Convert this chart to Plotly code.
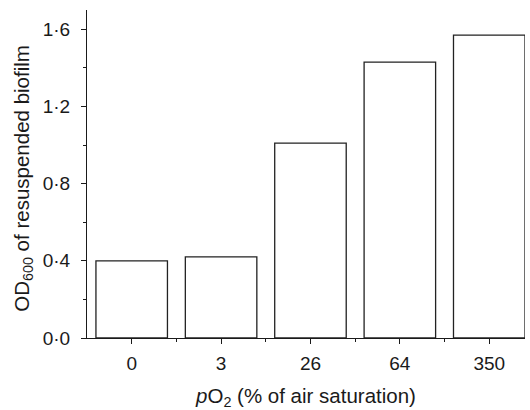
import plotly.graph_objects as go

# Biofilm OD600 at each oxygen partial pressure
categories = ["0", "3", "26", "64", "350"]
od600 = [0.40, 0.42, 1.01, 1.43, 1.57]

y_tickvals = [0.0, 0.4, 0.8, 1.2, 1.6]
y_ticktext = ["0·0", "0·4", "0·8", "1·2", "1·6"]
y_minorvals = [0.2, 0.6, 1.0, 1.4]

positions = list(range(len(categories)))
boundaries = [p + 0.5 for p in positions[:-1]]

font_family = "Liberation Sans, Arial, Helvetica, sans-serif"

fig = go.Figure(
    go.Bar(
        x=positions,
        y=od600,
        width=0.8,
        marker=dict(color="white", line=dict(color="#222222", width=1.3)),
    )
)

fig.update_layout(
    width=530,
    height=410,
    margin=dict(l=87, r=5, t=10, b=72),
    plot_bgcolor="white",
    paper_bgcolor="white",
    showlegend=False,
    font=dict(family=font_family, color="#1a1a1a", size=19),
)

fig.update_xaxes(
    range=[-0.5, 4.4],
    tickmode="array",
    tickvals=positions,
    ticktext=categories,
    ticks="outside",
    ticklen=5,
    tickwidth=1,
    tickcolor="#1a1a1a",
    showline=True,
    linecolor="#1a1a1a",
    linewidth=1.2,
    showgrid=False,
    zeroline=False,
    tickfont=dict(size=19),
    ticklabelstandoff=3,
    minor=dict(tickmode="array", tickvals=boundaries, ticks="outside",
               ticklen=3, tickcolor="#1a1a1a", showgrid=False),
    title=dict(text="<i>p</i>O<sub>2</sub> (% of air saturation)",
               font=dict(size=20.5), standoff=17),
)

fig.update_yaxes(
    range=[0, 1.7],
    tickmode="array",
    tickvals=y_tickvals,
    ticktext=y_ticktext,
    ticks="outside",
    ticklen=5,
    tickwidth=1,
    tickcolor="#1a1a1a",
    showline=True,
    linecolor="#1a1a1a",
    linewidth=1.2,
    showgrid=False,
    zeroline=False,
    tickfont=dict(size=19),
    ticklabelstandoff=7,
    minor=dict(tickmode="array", tickvals=y_minorvals, ticks="outside",
               ticklen=3, tickcolor="#1a1a1a", showgrid=False),
)

# Vertical axis title, placed slightly below the plot-area centre
fig.add_annotation(
    text="OD<sub>600</sub> of resuspended biofilm",
    xref="paper", yref="paper",
    x=-0.148, y=0.486,
    xanchor="center", yanchor="middle",
    textangle=-90,
    showarrow=False,
    font=dict(size=20.5),
)

fig.write_html("out.html")
